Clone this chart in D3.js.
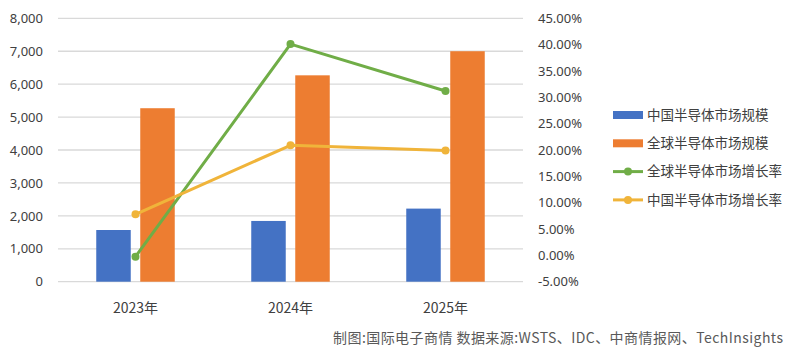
<!DOCTYPE html>
<html>
<head>
<meta charset="utf-8">
<script src="https://cdn.jsdelivr.net/npm/d3@7"></script>
<style>
  html, body { margin: 0; padding: 0; background: #fff; }
  svg { display: block; }
</style>
</head>
<body>
<svg id="chart" width="800" height="352"></svg>
<script>
const categories = ["2023年", "2024年", "2025年"];
const chinaMarket = [1570, 1845, 2220];
const globalMarket = [5269, 6268, 7000];
const globalGrowth = [-0.0025, 0.401, 0.312];
const chinaGrowth = [0.078, 0.209, 0.199];
const leftTicks = [0, 1000, 2000, 3000, 4000, 5000, 6000, 7000, 8000];
const rightTicks = [-0.05, 0, 0.05, 0.10, 0.15, 0.20, 0.25, 0.30, 0.35, 0.40, 0.45];
const barSeries = ["中国半导体市场规模", "全球半导体市场规模"];
const lineSeries = ["全球半导体市场增长率", "中国半导体市场增长率"];
const sourceText = "制图:国际电子商情  数据来源:WSTS、IDC、中商情报网、TechInsights";

const colors = {
  "中国半导体市场规模": "#4472C4",
  "全球半导体市场规模": "#ED7D31",
  "全球半导体市场增长率": "#70AD47",
  "中国半导体市场增长率": "#F0B43A"
};

const svg = d3.select("#chart");
const numFont = "'Noto Sans', 'DejaVu Sans', sans-serif";
const cjkFont = "'Noto Sans CJK SC', 'Noto Sans', sans-serif";
const textColor = "#404040";

const plotLeft = 58, plotRight = 523, plotTop = 18.3, plotBottom = 281.7;

const x0 = d3.scaleBand().domain(categories).range([plotLeft, plotRight]).padding(0);
const x1 = d3.scaleBand().domain(barSeries).range([-39.25, 39.25]).paddingInner(0.216);
const yL = d3.scaleLinear().domain([0, 8000]).range([plotBottom, plotTop]);
const yR = d3.scaleLinear().domain([-0.05, 0.45]).range([plotBottom, plotTop]);
const cx = c => x0(c) + x0.bandwidth() / 2;

// gridlines
svg.append("g").selectAll("line").data(leftTicks).join("line")
  .attr("x1", plotLeft).attr("x2", plotRight)
  .attr("y1", d => yL(d)).attr("y2", d => yL(d))
  .attr("stroke", "#D9D9D9").attr("stroke-width", 1.3);

// left axis
const leftAxis = d3.axisLeft(yL).tickValues(leftTicks).tickSize(0).tickPadding(0)
  .tickFormat(d3.format(","));
const gL = svg.append("g").attr("transform", `translate(43,0)`).call(leftAxis);
gL.select(".domain").remove();
gL.selectAll("text").attr("font-family", numFont).attr("font-size", 13).attr("fill", textColor);

// right axis
const pct = d3.format(".2%");
const rightAxis = d3.axisRight(yR).tickValues(rightTicks).tickSize(0).tickPadding(0)
  .tickFormat(d => pct(d).replace("−", "-"));
const gR = svg.append("g").attr("transform", `translate(538,0)`).call(rightAxis);
gR.select(".domain").remove();
gR.selectAll("text").attr("font-family", numFont).attr("font-size", 13).attr("fill", textColor);

// x axis labels
const xAxis = d3.axisBottom(x0).tickSize(0).tickPadding(0);
const gX = svg.append("g").attr("transform", `translate(0,303)`).call(xAxis);
gX.select(".domain").remove();
gX.selectAll("text").attr("font-family", cjkFont).attr("font-size", 14).attr("fill", textColor);

// bars
const barData = [chinaMarket, globalMarket];
barSeries.forEach((s, si) => {
  svg.append("g").selectAll("rect").data(categories).join("rect")
    .attr("x", c => cx(c) + x1(s))
    .attr("width", x1.bandwidth())
    .attr("y", (c, i) => yL(barData[si][i]))
    .attr("height", (c, i) => yL(0) - yL(barData[si][i]))
    .attr("fill", colors[s]);
});

// lines
const lineData = [globalGrowth, chinaGrowth];
lineSeries.forEach((s, si) => {
  const pts = categories.map((c, i) => [cx(c), yR(lineData[si][i])]);
  svg.append("path").datum(pts)
    .attr("d", d3.line())
    .attr("fill", "none").attr("stroke", colors[s]).attr("stroke-width", 3)
    .attr("stroke-linejoin", "round");
  svg.append("g").selectAll("circle").data(pts).join("circle")
    .attr("cx", d => d[0]).attr("cy", d => d[1]).attr("r", 4)
    .attr("fill", colors[s]);
});

// legend
const legendItems = [...barSeries, ...lineSeries];
const lg = svg.append("g");
legendItems.forEach((s, i) => {
  const y = 115 + i * 28.3;
  if (i < 2) {
    lg.append("rect").attr("x", 613).attr("y", y - 4).attr("width", 30).attr("height", 8)
      .attr("fill", colors[s]);
  } else {
    lg.append("line").attr("x1", 613).attr("x2", 643).attr("y1", y).attr("y2", y)
      .attr("stroke", colors[s]).attr("stroke-width", 3);
    lg.append("circle").attr("cx", 628).attr("cy", y).attr("r", 4).attr("fill", colors[s]);
  }
  lg.append("text").attr("x", 647).attr("y", y).attr("dy", "0.36em")
    .attr("font-family", cjkFont).attr("font-size", 13.5).attr("fill", textColor)
    .text(s);
});

// source
svg.append("text").attr("x", 783).attr("y", 338).attr("dy", "0.35em")
  .attr("text-anchor", "end")
  .attr("font-family", cjkFont).attr("font-size", 14).attr("fill", "#595959")
  .attr("textLength", 450).attr("lengthAdjust", "spacing")
  .text(sourceText);
</script>
</body>
</html>
